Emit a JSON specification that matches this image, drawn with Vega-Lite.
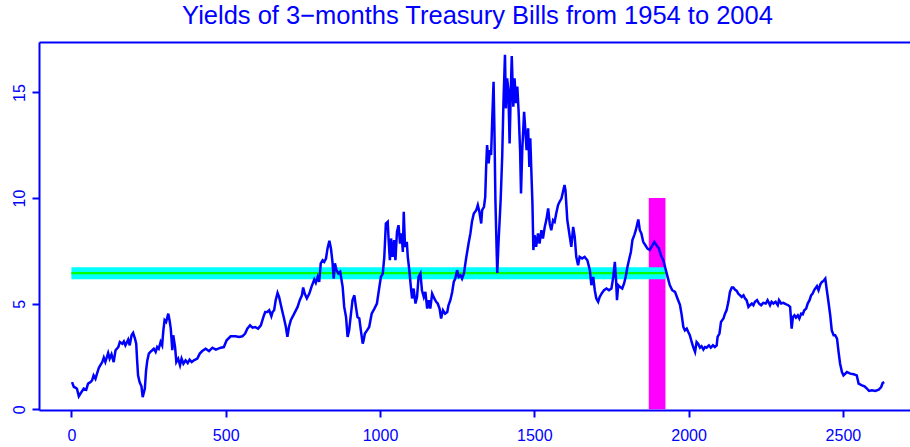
{
  "$schema": "https://vega.github.io/schema/vega-lite/v6.json",
  "width": 871,
  "height": 368,
  "autosize": {"type": "none"},
  "padding": {"left": 39, "top": 42, "right": 0, "bottom": 37},
  "background": "white",
  "config": {
    "view": {"stroke": null},
    "font": "Liberation Sans",
    "axis": {
      "domainColor": "#0000FF", "domainWidth": 2,
      "tickColor": "#0000FF", "tickWidth": 2, "tickSize": 7,
      "labelColor": "#0000FF", "labelFont": "Liberation Sans", "labelFontSize": 16,
      "grid": false, "labelFlush": false, "labelOverlap": false
    }
  },
  "title": {
    "text": "Yields of 3−months Treasury Bills from 1954 to 2004",
    "color": "#0000FF", "fontSize": 25.5, "fontWeight": "normal", "font": "Liberation Sans",
    "anchor": "middle", "frame": "group", "baseline": "alphabetic", "offset": 16, "dx": 3, "dy": 23
  },
  "resolve": {"axis": {"x": "independent"}},
  "layer": [
    {
      "data": {"values": [{"x0": 1871, "x1": 1925, "y0": 0, "y1": 10}]},
      "mark": {"type": "rect", "color": "#FF00FF"},
      "encoding": {
        "x": {"field": "x0", "type": "quantitative", "scale": {"domain": [-105, 2717.5], "nice": false, "zero": false},
              "axis": {"orient": "top", "labels": false, "ticks": false, "domain": true, "title": null}},
        "x2": {"field": "x1"},
        "y": {"field": "y0", "type": "quantitative", "scale": {"domain": [-0.03, 17.39], "nice": false, "zero": false},
              "axis": {"orient": "left", "values": [0, 5, 10, 15], "labelAngle": -90, "labelPadding": 5, "title": null}},
        "y2": {"field": "y1"}
      }
    },
    {
      "data": {"values": [{"x0": 0, "x1": 1925, "y0": 6.16, "y1": 6.73}]},
      "mark": {"type": "rect", "color": "#00FFFF"},
      "encoding": {
        "x": {"field": "x0", "type": "quantitative", "scale": {"domain": [-105, 2717.5], "nice": false, "zero": false}, "axis": null},
        "x2": {"field": "x1"},
        "y": {"field": "y0", "type": "quantitative", "scale": {"domain": [-0.03, 17.39], "nice": false, "zero": false},
              "axis": {"orient": "left", "values": [0, 5, 10, 15], "labelAngle": -90, "labelPadding": 5, "title": null}},
        "y2": {"field": "y1"}
      }
    },
    {
      "data": {"values": [{"x0": 0, "x1": 1925, "level": 6.45}]},
      "mark": {"type": "rule", "color": "#00FF00", "strokeWidth": 2.3},
      "encoding": {
        "x": {"field": "x0", "type": "quantitative", "scale": {"domain": [-105, 2717.5], "nice": false, "zero": false}, "axis": null},
        "x2": {"field": "x1"},
        "y": {"field": "level", "type": "quantitative", "scale": {"domain": [-0.03, 17.39], "nice": false, "zero": false},
              "axis": {"orient": "left", "values": [0, 5, 10, 15], "labelAngle": -90, "labelPadding": 5, "title": null}}
      }
    },
    {
      "data": {"values": [
        {"t":2,"y":1.29},{"t":8,"y":1.06},{"t":13,"y":1.03},{"t":18,"y":0.98},{"t":24,"y":0.62},{"t":29,"y":0.74},{"t":40,"y":0.98},{"t":48,"y":0.93},{"t":54,"y":1.22},{"t":62,"y":1.29},{"t":67,"y":1.37},{"t":72,"y":1.61},{"t":78,"y":1.45},{"t":83,"y":1.69},{"t":89,"y":1.97},{"t":94,"y":2.09},{"t":100,"y":2.24},{"t":105,"y":2.45},{"t":110,"y":2.24},{"t":119,"y":2.67},{"t":124,"y":2.40},{"t":130,"y":2.61},{"t":137,"y":2.24},{"t":143,"y":2.80},{"t":152,"y":2.95},{"t":157,"y":3.19},{"t":165,"y":3.11},{"t":170,"y":3.22},{"t":175,"y":3.03},{"t":184,"y":3.30},{"t":189,"y":3.03},{"t":195,"y":3.51},{"t":200,"y":3.62},{"t":206,"y":3.35},{"t":210,"y":3.11},{"t":213,"y":2.32},{"t":216,"y":1.61},{"t":221,"y":1.29},{"t":227,"y":1.09},{"t":231,"y":0.58},{"t":238,"y":0.98},{"t":242,"y":1.85},{"t":246,"y":2.32},{"t":251,"y":2.64},{"t":256,"y":2.72},{"t":262,"y":2.80},{"t":267,"y":2.87},{"t":273,"y":2.72},{"t":278,"y":2.95},{"t":283,"y":2.87},{"t":289,"y":3.19},{"t":294,"y":3.03},{"t":298,"y":3.74},{"t":302,"y":4.22},{"t":307,"y":4.14},{"t":314,"y":4.53},{"t":318,"y":4.22},{"t":322,"y":3.82},{"t":327,"y":2.80},{"t":330,"y":3.51},{"t":336,"y":2.95},{"t":340,"y":2.24},{"t":346,"y":2.40},{"t":352,"y":2.09},{"t":357,"y":2.40},{"t":363,"y":2.16},{"t":370,"y":2.32},{"t":377,"y":2.19},{"t":383,"y":2.35},{"t":390,"y":2.24},{"t":397,"y":2.32},{"t":408,"y":2.40},{"t":416,"y":2.64},{"t":424,"y":2.76},
        {"t":435,"y":2.87},{"t":446,"y":2.76},{"t":457,"y":2.92},{"t":468,"y":2.83},{"t":484,"y":2.92},{"t":494,"y":2.95},{"t":503,"y":3.27},{"t":516,"y":3.46},{"t":532,"y":3.46},{"t":543,"y":3.43},{"t":554,"y":3.46},{"t":563,"y":3.59},{"t":570,"y":3.82},{"t":579,"y":3.98},{"t":587,"y":3.87},{"t":595,"y":3.90},{"t":605,"y":3.82},{"t":614,"y":3.98},{"t":622,"y":4.37},{"t":628,"y":4.61},{"t":635,"y":4.61},{"t":641,"y":4.69},{"t":648,"y":4.41},{"t":652,"y":4.61},{"t":657,"y":4.69},{"t":662,"y":5.17},{"t":668,"y":5.51},{"t":673,"y":5.32},{"t":679,"y":4.93},{"t":684,"y":4.61},{"t":689,"y":4.30},{"t":695,"y":3.90},{"t":700,"y":3.43},{"t":705,"y":3.90},{"t":711,"y":4.22},{"t":722,"y":4.53},{"t":733,"y":4.85},{"t":740,"y":5.17},{"t":747,"y":5.40},{"t":751,"y":5.77},{"t":756,"y":5.48},{"t":763,"y":5.25},{"t":771,"y":5.48},{"t":778,"y":5.80},{"t":787,"y":6.15},{"t":792,"y":5.99},{"t":798,"y":6.27},{"t":803,"y":6.03},{"t":808,"y":6.91},{"t":814,"y":7.06},{"t":819,"y":6.98},{"t":825,"y":7.14},{"t":830,"y":7.62},{"t":836,"y":7.98},{"t":841,"y":7.62},{"t":846,"y":6.98},{"t":850,"y":6.19},{"t":854,"y":6.91},{"t":859,"y":6.59},{"t":865,"y":6.43},{"t":871,"y":6.51},
        {"t":879,"y":5.80},{"t":884,"y":4.85},{"t":890,"y":4.37},{"t":895,"y":3.43},{"t":900,"y":3.74},{"t":906,"y":4.53},{"t":911,"y":5.17},{"t":917,"y":5.40},{"t":922,"y":4.85},{"t":927,"y":4.37},{"t":933,"y":4.30},{"t":938,"y":3.74},{"t":944,"y":3.11},{"t":947,"y":3.27},{"t":951,"y":3.59},{"t":958,"y":3.74},{"t":965,"y":3.90},{"t":973,"y":4.53},{"t":982,"y":4.77},{"t":990,"y":5.01},{"t":998,"y":5.80},{"t":1003,"y":6.27},{"t":1009,"y":6.43},{"t":1014,"y":7.22},{"t":1019,"y":8.80},{"t":1025,"y":8.88},{"t":1028,"y":8.01},{"t":1032,"y":7.06},{"t":1036,"y":8.09},{"t":1041,"y":7.22},{"t":1046,"y":8.01},{"t":1050,"y":7.06},{"t":1055,"y":8.40},{"t":1060,"y":8.72},{"t":1065,"y":7.85},{"t":1070,"y":8.33},{"t":1074,"y":7.45},{"t":1077,"y":9.35},{"t":1081,"y":7.69},{"t":1087,"y":7.93},{"t":1090,"y":7.22},{"t":1095,"y":6.59},{"t":1101,"y":5.64},{"t":1104,"y":5.25},{"t":1109,"y":5.72},{"t":1115,"y":5.01},{"t":1120,"y":5.32},{"t":1125,"y":6.27},{"t":1131,"y":6.43},{"t":1136,"y":5.64},{"t":1142,"y":5.32},{"t":1147,"y":5.56},{"t":1153,"y":4.77},{"t":1158,"y":5.17},{"t":1163,"y":4.77},{"t":1169,"y":5.48},{"t":1176,"y":5.25},{"t":1182,"y":5.09},{"t":1187,"y":5.01},{"t":1193,"y":4.77},{"t":1198,"y":4.30},{"t":1204,"y":4.69},{"t":1211,"y":4.53},{"t":1218,"y":4.61},{"t":1222,"y":4.93},{"t":1228,"y":5.17},{"t":1234,"y":5.56},{"t":1239,"y":6.03},{"t":1244,"y":6.19},{"t":1250,"y":6.59},{"t":1255,"y":6.27},{"t":1261,"y":6.35},{"t":1266,"y":6.19},{"t":1272,"y":6.43},
        {"t":1279,"y":7.14},{"t":1287,"y":7.85},{"t":1293,"y":8.33},{"t":1298,"y":8.88},{"t":1304,"y":9.27},{"t":1312,"y":9.43},{"t":1317,"y":9.67},{"t":1322,"y":9.35},{"t":1328,"y":8.80},{"t":1331,"y":9.43},{"t":1337,"y":9.59},{"t":1341,"y":10.06},{"t":1344,"y":11.48},{"t":1347,"y":12.51},{"t":1352,"y":11.64},{"t":1356,"y":12.27},{"t":1360,"y":12.04},{"t":1364,"y":13.85},{"t":1368,"y":15.51},{"t":1371,"y":13.06},{"t":1374,"y":9.91},{"t":1378,"y":7.54},{"t":1380,"y":6.46},{"t":1384,"y":7.85},{"t":1391,"y":9.91},{"t":1396,"y":11.96},{"t":1400,"y":14.49},{"t":1405,"y":16.78},{"t":1408,"y":14.25},{"t":1412,"y":15.67},{"t":1416,"y":15.12},{"t":1420,"y":12.59},{"t":1424,"y":15.12},{"t":1427,"y":16.73},{"t":1432,"y":14.33},{"t":1436,"y":15.67},{"t":1441,"y":14.49},{"t":1445,"y":15.28},{"t":1449,"y":14.17},{"t":1454,"y":12.27},{"t":1457,"y":10.22},{"t":1461,"y":12.27},{"t":1467,"y":14.09},{"t":1471,"y":13.22},{"t":1475,"y":12.27},{"t":1480,"y":13.30},{"t":1484,"y":11.48},{"t":1487,"y":12.83},{"t":1490,"y":11.48},{"t":1494,"y":9.75},{"t":1497,"y":7.54},{"t":1501,"y":8.25},{"t":1506,"y":7.69},{"t":1512,"y":8.33},{"t":1517,"y":7.85},{"t":1523,"y":8.48},{"t":1528,"y":8.09},{"t":1534,"y":8.64},{"t":1539,"y":8.96},{"t":1545,"y":9.51},{"t":1550,"y":8.80},{"t":1555,"y":8.48},{"t":1561,"y":8.96},{"t":1566,"y":8.88},{"t":1571,"y":9.27},{"t":1577,"y":9.67},{"t":1582,"y":9.83},{"t":1588,"y":9.98},{"t":1593,"y":10.30},{"t":1598,"y":10.62},
        {"t":1601,"y":10.38},{"t":1607,"y":8.96},{"t":1615,"y":8.17},{"t":1620,"y":7.69},{"t":1626,"y":8.64},{"t":1631,"y":8.17},{"t":1636,"y":7.22},{"t":1642,"y":6.82},{"t":1647,"y":7.22},{"t":1655,"y":7.14},{"t":1663,"y":7.22},{"t":1672,"y":7.06},{"t":1680,"y":6.59},{"t":1685,"y":5.88},{"t":1691,"y":6.27},{"t":1696,"y":5.64},{"t":1701,"y":5.25},{"t":1707,"y":5.09},{"t":1712,"y":5.32},{"t":1718,"y":5.48},{"t":1726,"y":5.64},{"t":1734,"y":5.72},{"t":1742,"y":5.64},{"t":1750,"y":5.72},{"t":1756,"y":6.27},{"t":1761,"y":6.98},{"t":1765,"y":6.11},{"t":1768,"y":5.17},{"t":1772,"y":5.88},{"t":1777,"y":5.80},{"t":1785,"y":5.72},{"t":1791,"y":5.96},{"t":1796,"y":6.27},{"t":1802,"y":6.75},{"t":1808,"y":7.14},{"t":1813,"y":7.45},{"t":1818,"y":8.01},{"t":1824,"y":8.25},{"t":1829,"y":8.48},{"t":1837,"y":8.99},{"t":1842,"y":8.48},{"t":1847,"y":8.33},{"t":1853,"y":7.93},{"t":1860,"y":7.77},{"t":1867,"y":7.61},{"t":1874,"y":7.54},{"t":1880,"y":7.69},{"t":1889,"y":7.93},{"t":1896,"y":7.77},{"t":1904,"y":7.61},{"t":1910,"y":7.30},{"t":1918,"y":7.06},{"t":1925,"y":6.67},{"t":1932,"y":6.27},{"t":1939,"y":5.88},{"t":1947,"y":5.64},{"t":1956,"y":5.56},{"t":1964,"y":5.25},
        {"t":1972,"y":4.95},{"t":1977,"y":4.53},{"t":1983,"y":3.90},{"t":1988,"y":3.74},{"t":1994,"y":3.82},{"t":1999,"y":3.66},{"t":2004,"y":3.51},{"t":2010,"y":3.19},{"t":2015,"y":2.95},{"t":2021,"y":2.72},{"t":2026,"y":3.19},{"t":2031,"y":3.11},{"t":2037,"y":2.92},{"t":2042,"y":2.99},{"t":2048,"y":2.83},{"t":2053,"y":2.95},{"t":2058,"y":2.92},{"t":2066,"y":3.03},{"t":2072,"y":2.92},{"t":2079,"y":3.03},{"t":2085,"y":2.95},{"t":2091,"y":3.03},{"t":2094,"y":3.43},{"t":2100,"y":3.59},{"t":2105,"y":4.14},{"t":2113,"y":4.30},{"t":2118,"y":4.53},{"t":2123,"y":4.69},{"t":2129,"y":5.09},{"t":2134,"y":5.56},{"t":2140,"y":5.77},{"t":2145,"y":5.77},{"t":2150,"y":5.67},{"t":2156,"y":5.61},{"t":2161,"y":5.48},{"t":2167,"y":5.40},{"t":2172,"y":5.32},{"t":2178,"y":5.40},{"t":2183,"y":5.25},{"t":2188,"y":5.17},{"t":2194,"y":4.85},{"t":2199,"y":4.93},{"t":2205,"y":5.01},{"t":2210,"y":4.93},{"t":2215,"y":5.09},{"t":2222,"y":5.17},{"t":2228,"y":5.01},{"t":2235,"y":4.93},{"t":2242,"y":5.04},{"t":2250,"y":5.01},{"t":2256,"y":5.17},{"t":2264,"y":4.93},{"t":2269,"y":5.09},{"t":2275,"y":5.01},{"t":2282,"y":5.09},{"t":2289,"y":4.93},{"t":2293,"y":5.17},{"t":2300,"y":5.01},{"t":2307,"y":5.04},{"t":2315,"y":4.98},{"t":2323,"y":4.93},{"t":2329,"y":4.85},{"t":2334,"y":3.82},{"t":2338,"y":4.37},{"t":2343,"y":4.45},{"t":2348,"y":4.34},{"t":2354,"y":4.45},{"t":2359,"y":4.30},{"t":2365,"y":4.53},{"t":2370,"y":4.50},{"t":2375,"y":4.69},{"t":2381,"y":4.77},{"t":2386,"y":5.01},{"t":2392,"y":5.17},{"t":2397,"y":5.40},
        {"t":2402,"y":5.48},{"t":2408,"y":5.67},{"t":2416,"y":5.83},{"t":2421,"y":5.64},{"t":2427,"y":5.92},{"t":2432,"y":6.03},{"t":2437,"y":6.08},{"t":2443,"y":6.19},{"t":2448,"y":5.64},{"t":2454,"y":5.01},{"t":2459,"y":4.45},{"t":2464,"y":3.74},{"t":2470,"y":3.51},{"t":2475,"y":3.51},{"t":2481,"y":3.35},{"t":2486,"y":2.72},{"t":2491,"y":2.16},{"t":2497,"y":1.77},{"t":2502,"y":1.61},{"t":2508,"y":1.69},{"t":2513,"y":1.77},{"t":2524,"y":1.69},{"t":2535,"y":1.66},{"t":2545,"y":1.61},{"t":2551,"y":1.22},{"t":2562,"y":1.14},{"t":2570,"y":1.09},{"t":2578,"y":0.98},{"t":2585,"y":0.87},{"t":2594,"y":0.90},{"t":2605,"y":0.87},{"t":2616,"y":0.93},{"t":2624,"y":1.06},{"t":2629,"y":1.25},{"t":2634,"y":1.29}
      ]},
      "mark": {"type": "line", "color": "#0000FF", "strokeWidth": 2.5},
      "encoding": {
        "x": {"field": "t", "type": "quantitative", "scale": {"domain": [-105, 2717.5], "nice": false, "zero": false},
              "axis": {"orient": "bottom", "values": [0, 500, 1000, 1500, 2000, 2500], "format": "d", "labelPadding": 10, "title": null}},
        "y": {"field": "y", "type": "quantitative", "scale": {"domain": [-0.03, 17.39], "nice": false, "zero": false},
              "axis": {"orient": "left", "values": [0, 5, 10, 15], "labelAngle": -90, "labelPadding": 5, "title": null}}
      }
    }
  ]
}
